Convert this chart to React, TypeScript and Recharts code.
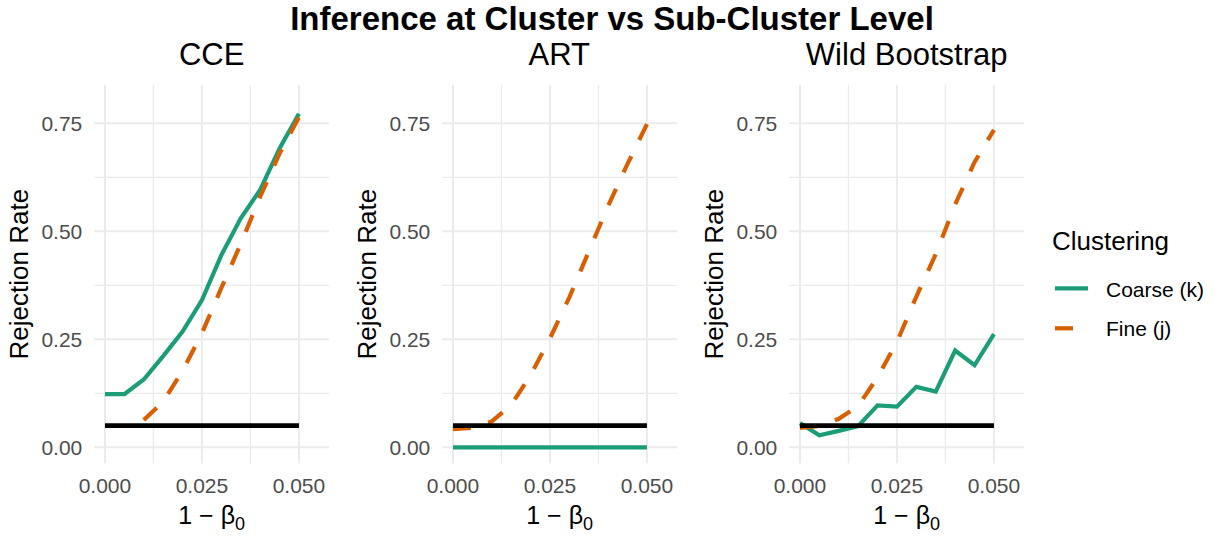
import React from 'react';
import { LineChart, Line, XAxis, YAxis, CartesianGrid } from 'recharts';

// ---------- data ----------
const xValues = [0, 0.005, 0.01, 0.015, 0.02, 0.025, 0.03, 0.035, 0.04, 0.045, 0.05];

const cceCoarse = [0.123, 0.123, 0.157, 0.211, 0.268, 0.341, 0.445, 0.53, 0.596, 0.692, 0.772];
const cceFine = [null, null, 0.063, 0.106, 0.177, 0.264, 0.369, 0.471, 0.58, 0.68, 0.764];

const artCoarse = [0, 0, 0, 0, 0, 0, 0, 0, 0, 0, 0];
const artFine = [0.042, 0.045, 0.06, 0.098, 0.167, 0.252, 0.347, 0.453, 0.559, 0.656, 0.748];

const wildCoarse = [0.056, 0.028, 0.038, 0.049, 0.097, 0.094, 0.14, 0.129, 0.224, 0.19, 0.262];
const wildFine = [0.045, 0.049, 0.066, 0.096, 0.162, 0.244, 0.349, 0.447, 0.562, 0.66, 0.735];

const nominalLevel = [0.05, 0.05, 0.05, 0.05, 0.05, 0.05, 0.05, 0.05, 0.05, 0.05, 0.05];

const panelTitles = ['CCE', 'ART', 'Wild Bootstrap'];
const seriesNames = ['Coarse (k)', 'Fine (j)'];
const chartTitle = 'Inference at Cluster vs Sub-Cluster Level';
const yAxisTitle = 'Rejection Rate';
const legendTitle = 'Clustering';

const xTicks = [0, 0.025, 0.05];
const xMinorTicks = [0.0125, 0.0375];
const yTicks = [0, 0.25, 0.5, 0.75];
const yMinorTicks = [0.125, 0.375, 0.625];

// ---------- styling / layout ----------
const COARSE_COLOR = '#1B9E77';
const FINE_COLOR = '#D95F02';
const GRID_COLOR = '#EBEBEB';
const TICK_COLOR = '#4D4D4D';
const FONT = '"Liberation Sans", Arial, Helvetica, sans-serif';

const X_DOMAIN: [number, number] = [-0.00275, 0.05775];
const Y_DOMAIN: [number, number] = [-0.037, 0.8387];
const PLOT_W = 234.7;
const PLOT_TOP = 85;
const X_AXIS_H = 76.7;
const Y_AXIS_W = 94.3;
const RIGHT_PAD = 6;
const panelLefts = [0, 347.7, 695];

const YTitle = (props: any) => {
  const vb = props.viewBox ?? { x: 0, y: PLOT_TOP, width: Y_AXIS_W, height: 378.3 };
  const cx = vb.x + vb.width - 75;
  const cy = vb.y + vb.height / 2;
  return (
    <text
      x={cx}
      y={cy}
      transform={`rotate(-90 ${cx} ${cy})`}
      textAnchor="middle"
      dominantBaseline="central"
      fontSize={26}
      fill="#000"
      fontFamily={FONT}
    >
      {yAxisTitle}
    </text>
  );
};

const XTitle = (props: any) => {
  const vb = props.viewBox ?? { x: Y_AXIS_W, y: 463.3, width: PLOT_W, height: X_AXIS_H };
  const cx = vb.x + vb.width / 2;
  const y = vb.y + 61;
  return (
    <text x={cx} y={y} textAnchor="middle" fontSize={25} fill="#000" fontFamily={FONT}>
      <tspan>1 − β</tspan>
      <tspan fontSize={18} dy={6}>0</tspan>
    </text>
  );
};

function Panel({ left, coarse, fine }: { left: number; coarse: (number | null)[]; fine: (number | null)[] }) {
  const data = xValues.map((x, i) => ({ x, coarse: coarse[i], fine: fine[i], nominal: nominalLevel[i] }));
  return (
    <div style={{ position: 'absolute', left, top: 0 }}>
      <LineChart
        width={Y_AXIS_W + PLOT_W + RIGHT_PAD}
        height={540}
        data={data}
        margin={{ top: PLOT_TOP, right: RIGHT_PAD, bottom: 0, left: 0 }}
      >
        <CartesianGrid
          stroke={GRID_COLOR}
          strokeWidth={1.3}
          horizontalValues={yMinorTicks}
          verticalValues={xMinorTicks}
        />
        <CartesianGrid stroke={GRID_COLOR} strokeWidth={2} horizontalValues={yTicks} verticalValues={xTicks} />
        <XAxis
          dataKey="x"
          type="number"
          domain={X_DOMAIN}
          allowDataOverflow
          ticks={xTicks}
          tickFormatter={(v: number) => v.toFixed(3)}
          axisLine={false}
          tickLine={false}
          tickSize={0}
          tickMargin={15}
          height={X_AXIS_H}
          tick={{ fill: TICK_COLOR, fontSize: 21, fontFamily: FONT }}
          interval={0}
          label={<XTitle />}
        />
        <YAxis
          type="number"
          domain={Y_DOMAIN}
          allowDataOverflow
          ticks={yTicks}
          tickFormatter={(v: number) => v.toFixed(2)}
          axisLine={false}
          tickLine={false}
          tickSize={0}
          tickMargin={12}
          width={Y_AXIS_W}
          tick={{ fill: TICK_COLOR, fontSize: 21, fontFamily: FONT }}
          interval={0}
          label={<YTitle />}
        />
        <Line
          dataKey="coarse"
          name={seriesNames[0]}
          stroke={COARSE_COLOR}
          strokeWidth={4.2}
          dot={false}
          activeDot={false}
          isAnimationActive={false}
          type="linear"
        />
        <Line
          dataKey="fine"
          name={seriesNames[1]}
          stroke={FINE_COLOR}
          strokeWidth={4.2}
          strokeDasharray="18 18"
          dot={false}
          activeDot={false}
          isAnimationActive={false}
          type="linear"
        />
        <Line
          dataKey="nominal"
          stroke="#000"
          strokeWidth={4.8}
          dot={false}
          activeDot={false}
          isAnimationActive={false}
          type="linear"
          legendType="none"
        />
      </LineChart>
    </div>
  );
}

const panelSeries = [
  { coarse: cceCoarse, fine: cceFine },
  { coarse: artCoarse, fine: artFine },
  { coarse: wildCoarse, fine: wildFine },
];

export default function App() {
  const panelCenters = panelLefts.map((l) => l + Y_AXIS_W + PLOT_W / 2);
  return (
    <div
      style={{
        position: 'absolute',
        left: 0,
        top: 0,
        width: 1215,
        height: 540,
        background: '#fff',
        fontFamily: FONT,
        overflow: 'hidden',
      }}
    >
      {panelSeries.map((s, i) => (
        <Panel key={panelTitles[i]} left={panelLefts[i]} coarse={s.coarse} fine={s.fine} />
      ))}
      <svg
        width={1215}
        height={540}
        style={{ position: 'absolute', left: 0, top: 0, pointerEvents: 'none' }}
        fontFamily={FONT}
      >
        <text x={612} y={30} textAnchor="middle" fontSize={33} fontWeight="bold" fill="#000">
          {chartTitle}
        </text>
        {panelTitles.map((t, i) => (
          <text key={t} x={panelCenters[i]} y={65} textAnchor="middle" fontSize={31} fill="#000">
            {t}
          </text>
        ))}
        <text x={1052} y={249.5} fontSize={26} fill="#000">
          {legendTitle}
        </text>
        <line x1={1055} x2={1088} y1={288.3} y2={288.3} stroke={COARSE_COLOR} strokeWidth={4.2} />
        <text x={1106} y={297.3} fontSize={21} fill="#000">
          {seriesNames[0]}
        </text>
        <line
          x1={1055}
          x2={1088}
          y1={328.3}
          y2={328.3}
          stroke={FINE_COLOR}
          strokeWidth={4.2}
          strokeDasharray="18 18"
        />
        <text x={1106} y={335.7} fontSize={21} fill="#000">
          {seriesNames[1]}
        </text>
      </svg>
    </div>
  );
}
